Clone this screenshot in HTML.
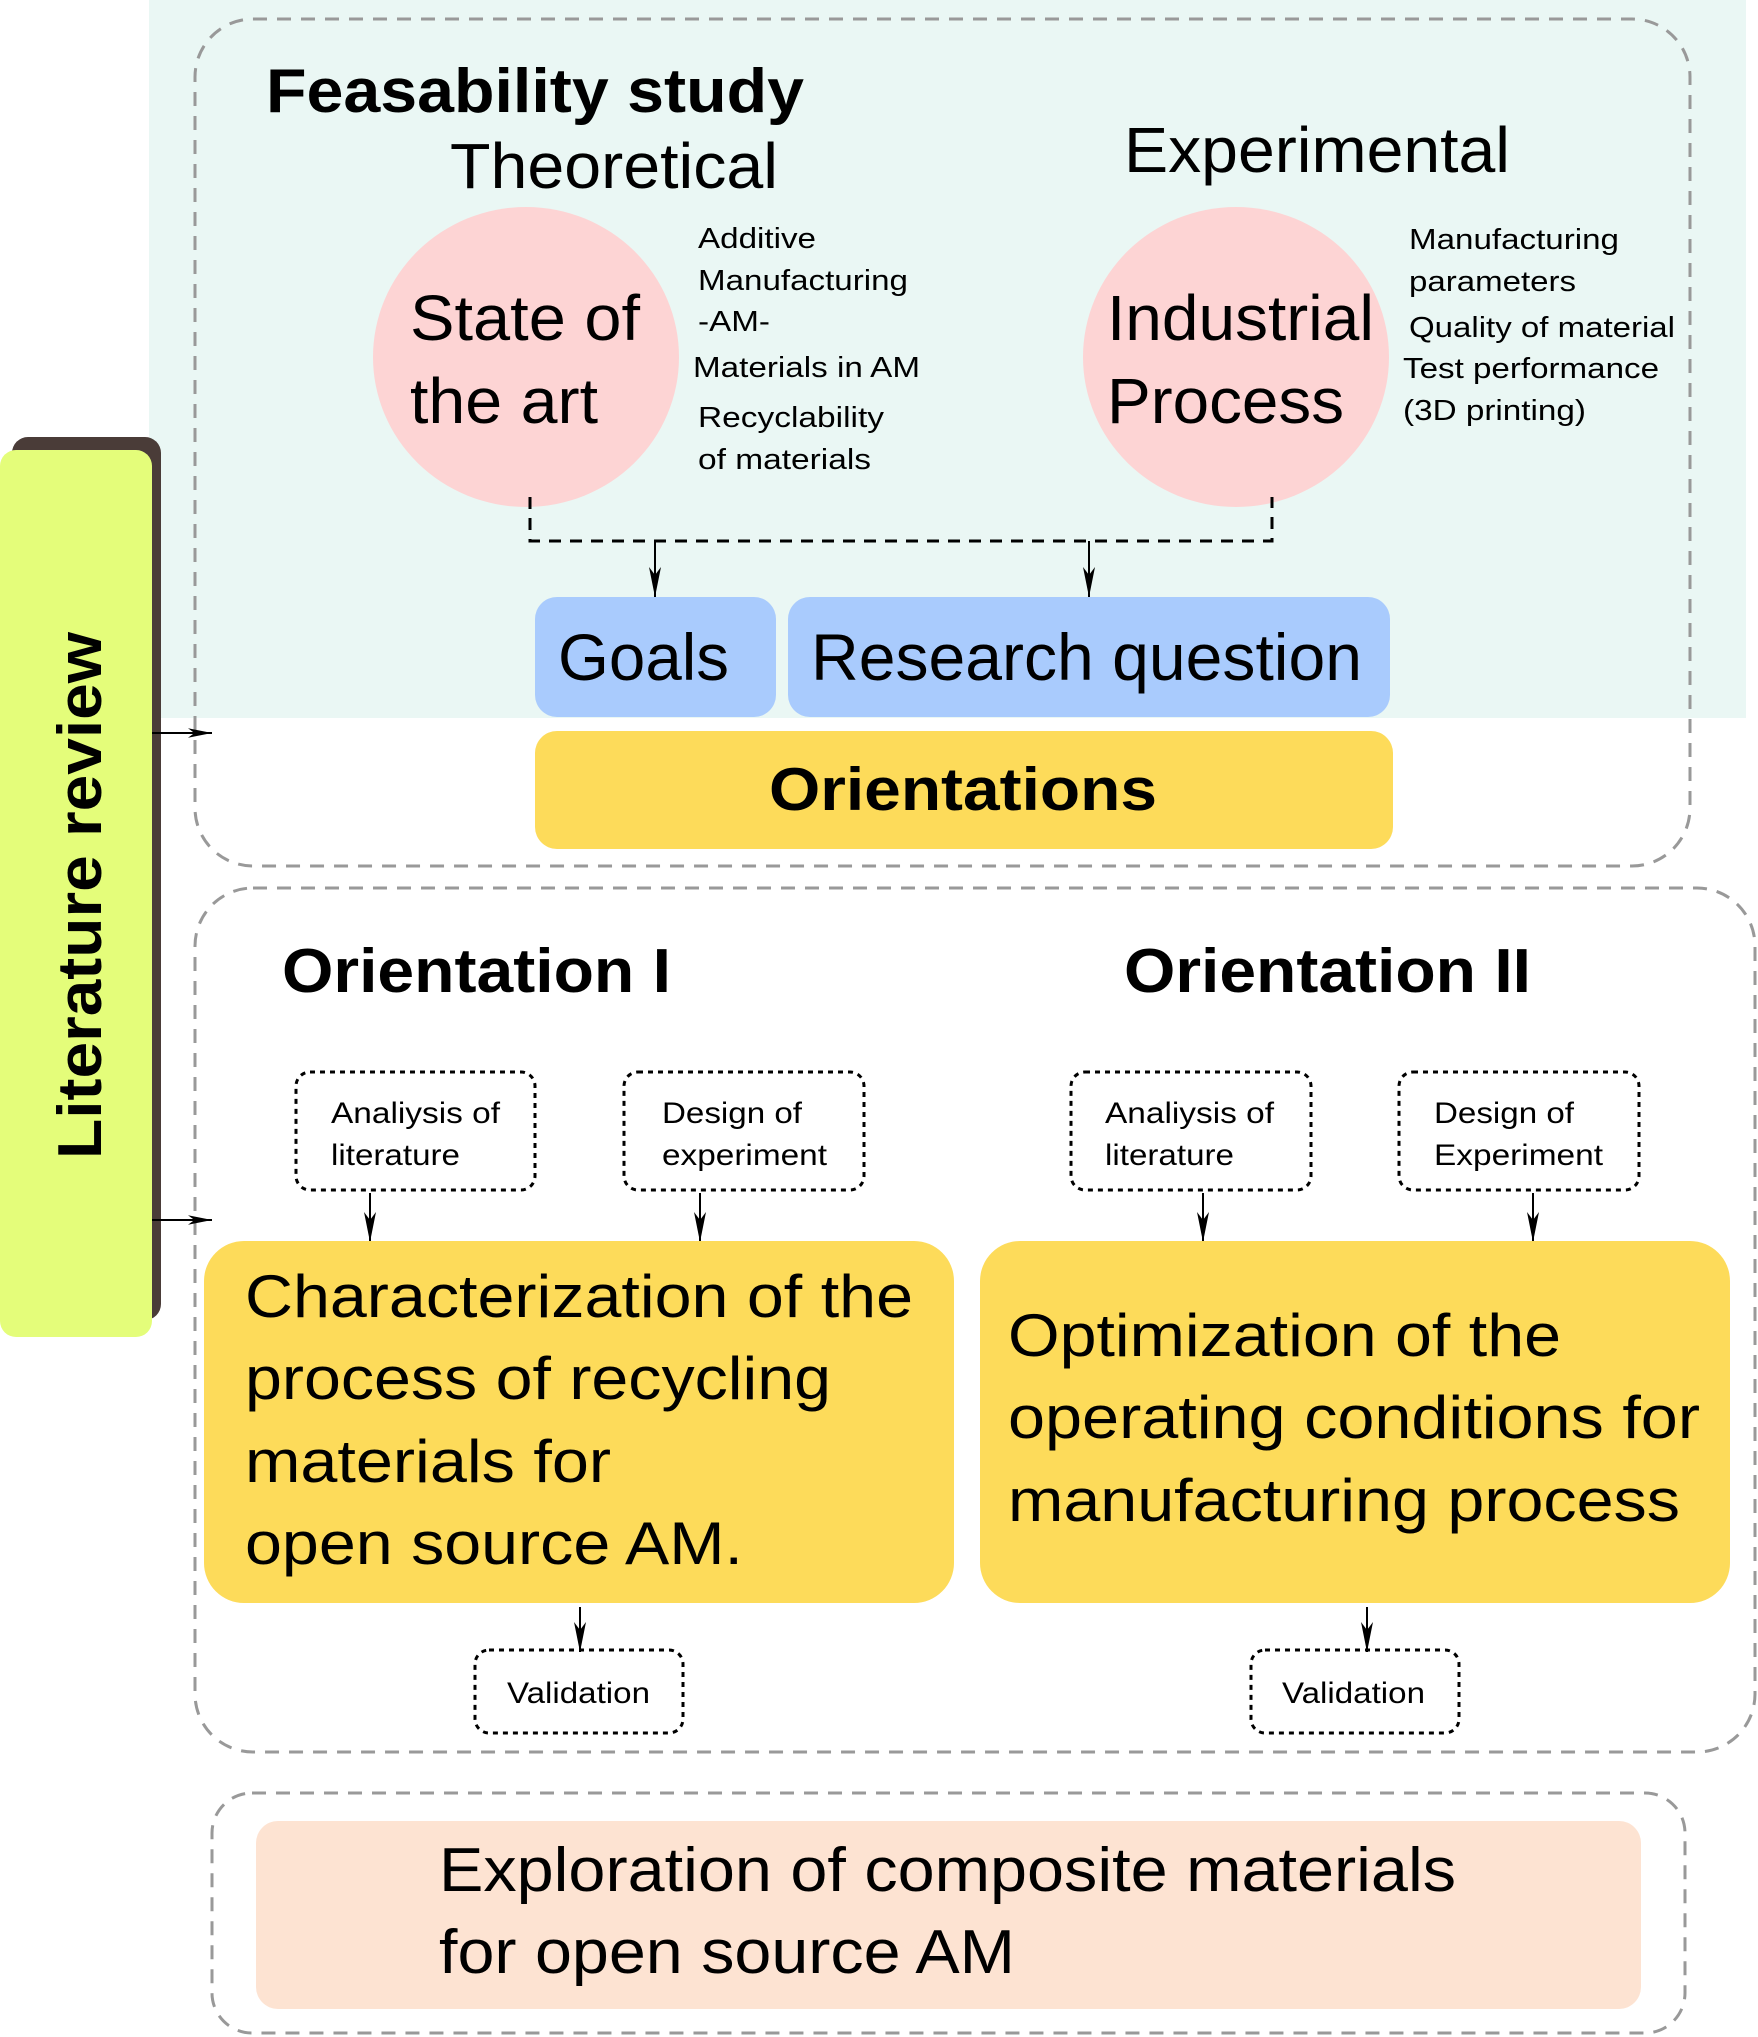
<!DOCTYPE html>
<html><head><meta charset="utf-8"><style>
html,body{margin:0;padding:0;background:#fff;}
svg{display:block;}
text{font-family:"Liberation Sans",Arial,sans-serif;fill:#000;}
</style></head><body>
<svg width="1758" height="2037" viewBox="0 0 1758 2037" xmlns="http://www.w3.org/2000/svg">
<defs>
<marker id="ah2" viewBox="0 0 30 12" refX="30" refY="6" markerWidth="30" markerHeight="12" markerUnits="userSpaceOnUse" orient="auto">
<path d="M0,0 L30,6 L0,12 L8,6 z" fill="#000"/></marker>
<marker id="ah3" viewBox="0 0 30 12" refX="30" refY="6" markerWidth="24" markerHeight="11" markerUnits="userSpaceOnUse" orient="auto">
<path d="M0,0 L30,6 L0,12 L8,6 z" fill="#000"/></marker>
</defs>
<rect x="149" y="0" width="1597" height="718" fill="#eaf7f4"/>
<rect x="195" y="19" width="1495" height="847" rx="58" fill="none" stroke="#999" stroke-width="3" stroke-dasharray="14,10"/>
<rect x="195" y="888" width="1560" height="864" rx="58" fill="none" stroke="#999" stroke-width="3" stroke-dasharray="14,10"/>
<rect x="212" y="1793" width="1473" height="240" rx="40" fill="none" stroke="#999" stroke-width="3" stroke-dasharray="14,10"/>

<g lengthAdjust="spacingAndGlyphs">
<text x="266" y="112" font-size="62" font-weight="bold" textLength="538" lengthAdjust="spacingAndGlyphs">Feasability study</text>
<text x="450" y="188" font-size="64" textLength="328" lengthAdjust="spacingAndGlyphs">Theoretical</text>
<text x="1124" y="172" font-size="64" textLength="386" lengthAdjust="spacingAndGlyphs">Experimental</text>
</g>

<ellipse cx="526" cy="357" rx="153" ry="150" fill="#fdd4d4"/>
<text x="410" y="340" font-size="64" textLength="230" lengthAdjust="spacingAndGlyphs">State of</text>
<text x="410" y="423" font-size="64" textLength="188" lengthAdjust="spacingAndGlyphs">the art</text>
<ellipse cx="1236" cy="357" rx="153" ry="150" fill="#fdd4d4"/>
<text x="1107" y="340" font-size="64" textLength="267" lengthAdjust="spacingAndGlyphs">Industrial</text>
<text x="1107" y="423" font-size="64" textLength="237" lengthAdjust="spacingAndGlyphs">Process</text>

<g font-size="29">
<text x="698" y="248" textLength="118" lengthAdjust="spacingAndGlyphs">Additive</text>
<text x="698" y="290" textLength="210" lengthAdjust="spacingAndGlyphs">Manufacturing</text>
<text x="698" y="331" textLength="72" lengthAdjust="spacingAndGlyphs">-AM-</text>
<text x="693" y="377" textLength="227" lengthAdjust="spacingAndGlyphs">Materials in AM</text>
<text x="698" y="427" textLength="186" lengthAdjust="spacingAndGlyphs">Recyclability</text>
<text x="698" y="469" textLength="173" lengthAdjust="spacingAndGlyphs">of materials</text>
<text x="1409" y="249" textLength="210" lengthAdjust="spacingAndGlyphs">Manufacturing</text>
<text x="1409" y="291" textLength="167" lengthAdjust="spacingAndGlyphs">parameters</text>
<text x="1409" y="337" textLength="266" lengthAdjust="spacingAndGlyphs">Quality of material</text>
<text x="1403" y="378" textLength="256" lengthAdjust="spacingAndGlyphs">Test performance</text>
<text x="1403" y="420" textLength="183" lengthAdjust="spacingAndGlyphs">(3D printing)</text>
</g>

<path d="M530 497 V541 H1272 V497" fill="none" stroke="#000" stroke-width="3" stroke-dasharray="12,9"/>
<line x1="655" y1="541" x2="655" y2="597" stroke="#000" stroke-width="2" marker-end="url(#ah2)"/>
<line x1="1089" y1="541" x2="1089" y2="597" stroke="#000" stroke-width="2" marker-end="url(#ah2)"/>

<rect x="535" y="597" width="241" height="120" rx="22" fill="#a9cbfd"/>
<text x="558" y="680" font-size="66" textLength="171" lengthAdjust="spacingAndGlyphs">Goals</text>
<rect x="788" y="597" width="602" height="120" rx="22" fill="#a9cbfd"/>
<text x="811" y="680" font-size="66" textLength="551" lengthAdjust="spacingAndGlyphs">Research question</text>
<rect x="535" y="731" width="858" height="118" rx="22" fill="#fddb5a"/>
<text x="769" y="810" font-size="60" font-weight="bold" textLength="388" lengthAdjust="spacingAndGlyphs">Orientations</text>

<rect x="12" y="437" width="149" height="883" rx="16" fill="#4a3c38"/>
<rect x="0" y="450" width="152" height="887" rx="16" fill="#e4fd7a"/>
<text transform="translate(101,1159) rotate(-90)" font-size="62" font-weight="bold" textLength="527" lengthAdjust="spacingAndGlyphs">Literature review</text>
<line x1="152" y1="733" x2="212" y2="733" stroke="#000" stroke-width="2" marker-end="url(#ah3)"/>
<line x1="152" y1="1220" x2="212" y2="1220" stroke="#000" stroke-width="2" marker-end="url(#ah3)"/>

<text x="282" y="992" font-size="62" font-weight="bold" textLength="389" lengthAdjust="spacingAndGlyphs">Orientation I</text>
<text x="1124" y="992" font-size="62" font-weight="bold" textLength="407" lengthAdjust="spacingAndGlyphs">Orientation II</text>

<g fill="none" stroke="#000" stroke-width="3" stroke-dasharray="5,5">
<rect x="296" y="1072" width="239" height="118" rx="14"/>
<rect x="624" y="1072" width="240" height="118" rx="14"/>
<rect x="1071" y="1072" width="240" height="118" rx="14"/>
<rect x="1399" y="1072" width="240" height="118" rx="14"/>
<rect x="475" y="1650" width="208" height="83" rx="14"/>
<rect x="1251" y="1650" width="208" height="83" rx="14"/>
</g>
<g font-size="30">
<text x="331" y="1123" textLength="169" lengthAdjust="spacingAndGlyphs">Analiysis of</text>
<text x="331" y="1165" textLength="129" lengthAdjust="spacingAndGlyphs">literature</text>
<text x="662" y="1123" textLength="140" lengthAdjust="spacingAndGlyphs">Design of</text>
<text x="662" y="1165" textLength="165" lengthAdjust="spacingAndGlyphs">experiment</text>
<text x="1105" y="1123" textLength="169" lengthAdjust="spacingAndGlyphs">Analiysis of</text>
<text x="1105" y="1165" textLength="129" lengthAdjust="spacingAndGlyphs">literature</text>
<text x="1434" y="1123" textLength="140" lengthAdjust="spacingAndGlyphs">Design of</text>
<text x="1434" y="1165" textLength="169" lengthAdjust="spacingAndGlyphs">Experiment</text>
<text x="507" y="1703" textLength="143" lengthAdjust="spacingAndGlyphs">Validation</text>
<text x="1282" y="1703" textLength="143" lengthAdjust="spacingAndGlyphs">Validation</text>
</g>
<g stroke="#000" stroke-width="2">
<line x1="370" y1="1193" x2="370" y2="1242" marker-end="url(#ah2)"/>
<line x1="700" y1="1193" x2="700" y2="1242" marker-end="url(#ah2)"/>
<line x1="1203" y1="1193" x2="1203" y2="1242" marker-end="url(#ah2)"/>
<line x1="1533" y1="1193" x2="1533" y2="1242" marker-end="url(#ah2)"/>
<line x1="580" y1="1607" x2="580" y2="1652" marker-end="url(#ah2)"/>
<line x1="1367" y1="1607" x2="1367" y2="1652" marker-end="url(#ah2)"/>
</g>

<rect x="204" y="1241" width="750" height="362" rx="40" fill="#fddb5a"/>
<g font-size="60">
<text x="245" y="1317" textLength="668" lengthAdjust="spacingAndGlyphs">Characterization of the</text>
<text x="245" y="1399" textLength="586" lengthAdjust="spacingAndGlyphs">process of recycling</text>
<text x="245" y="1482" textLength="366" lengthAdjust="spacingAndGlyphs">materials for</text>
<text x="245" y="1564" textLength="498" lengthAdjust="spacingAndGlyphs">open source AM.</text>
</g>
<rect x="980" y="1241" width="750" height="362" rx="40" fill="#fddb5a"/>
<g font-size="60">
<text x="1008" y="1356" textLength="553" lengthAdjust="spacingAndGlyphs">Optimization of the</text>
<text x="1008" y="1438" textLength="692" lengthAdjust="spacingAndGlyphs">operating conditions for</text>
<text x="1008" y="1521" textLength="672" lengthAdjust="spacingAndGlyphs">manufacturing process</text>
</g>

<rect x="256" y="1821" width="1385" height="188" rx="22" fill="#fde3d2"/>
<g font-size="62">
<text x="439" y="1891" textLength="1017" lengthAdjust="spacingAndGlyphs">Exploration of composite materials</text>
<text x="439" y="1973" textLength="576" lengthAdjust="spacingAndGlyphs">for open source AM</text>
</g>
</svg>
</body></html>
